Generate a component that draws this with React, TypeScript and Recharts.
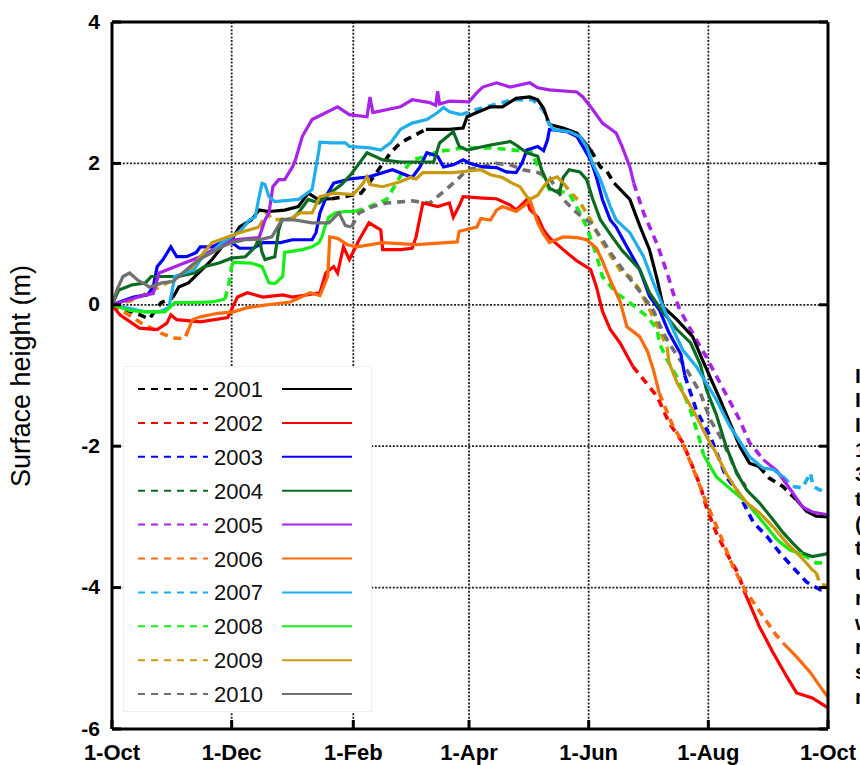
import React from 'react';
import { LineChart, Line, XAxis, YAxis, CartesianGrid } from 'recharts';

const FONT = '"Liberation Sans", Arial, Helvetica, sans-serif';

const xTicks = [0, 61, 123, 182, 243, 304, 365];
const xTickLabels = ['1-Oct', '1-Dec', '1-Feb', '1-Apr', '1-Jun', '1-Aug', '1-Oct'];
const yTicks = [-6, -4, -2, 0, 2, 4];
const years = ['2001', '2002', '2003', '2004', '2005', '2006', '2007', '2008', '2009', '2010'];
const colors = ['#000000', '#FF0000', '#0000FF', '#0B6B22', '#A822E8', '#FF6A0A', '#1EAEEE', '#15EE15', '#C99A10', '#707070'];
const yAxisTitle = 'Surface height (m)';
const sideGlyphs = ['I', 'I', 'I', '1', '3', 't', '(', 't', 'u', 'n', 'w', 'n', 's', 'n'];

// [day since 1-Oct, surface height (m), style of segment starting here: 1 solid, 0 dashed]
const S = 1;
const D = 0;

const h2001 = [[0,0,D],[14,-0.14,D],[19,-0.2,D],[25,0.03,D],[31,0.1,S],[34,0.25,S],[39,0.31,S],[46,0.5,S],[51,0.64,S],[56,0.82,S],[61,0.92,S],[65,1.1,S],[71,1.2,S],[75,1.34,S],[80,1.32,S],[88,1.34,S],[95,1.39,S],[100,1.58,S],[105,1.49,S],[112,1.5,D],[119,1.53,D],[127,1.58,D],[131,1.72,D],[142,2.15,D],[147,2.29,D],[153,2.38,D],[160,2.48,S],[172,2.48,S],[179,2.5,S],[181,2.66,S],[186,2.72,S],[193,2.8,S],[199,2.8,S],[206,2.92,S],[213,2.94,S],[217,2.9,S],[220,2.78,S],[223,2.55,S],[230,2.5,S],[237,2.43,S],[240,2.33,S],[244,2.19,D],[249,1.95,D],[252,1.9,D],[256,1.72,S],[264,1.49,S],[269,1.12,S],[274,0.78,S],[278,0.35,S],[281,-0.03,S],[288,-0.21,S],[296,-0.45,S],[301,-0.78,S],[310,-1.34,S],[315,-1.67,S],[320,-2.0,S],[325,-2.24,S],[330,-2.29,D],[335,-2.45,D],[342,-2.57,D],[349,-2.76,S],[354,-2.92,S],[359,-2.99,S],[365,-3.0,S]];

const h2002 = [[0,0,S],[4,-0.14,S],[14,-0.33,S],[23,-0.35,S],[28,-0.26,S],[30,-0.14,S],[33,-0.21,S],[45,-0.24,S],[59,-0.18,S],[64,0.11,S],[69,0.17,S],[77,0.11,S],[87,0.14,S],[92,0.11,S],[106,0.17,S],[109,0.45,S],[113,0.54,S],[115,0.45,S],[118,0.82,S],[121,0.64,S],[126,0.92,S],[131,1.16,S],[137,1.06,S],[138,0.78,S],[147,0.78,S],[153,0.8,S],[155,0.96,S],[158.5,1.44,S],[166,1.39,S],[172,1.44,S],[174,1.24,S],[177,1.4,S],[179,1.53,S],[189,1.51,S],[196,1.5,S],[203,1.41,S],[206,1.34,S],[211.5,1.49,S],[213,1.35,S],[217,1.24,S],[220,1.06,S],[223,0.95,S],[230,0.78,S],[237,0.62,S],[244,0.5,S],[247,0.25,S],[250,-0.09,S],[254,-0.35,S],[259,-0.54,S],[265.5,-0.87,D],[278,-1.3,D],[284,-1.67,D],[291,-1.95,D],[296,-2.29,D],[300,-2.57,D],[303,-2.86,D],[308,-3.22,D],[313,-3.5,D],[319,-3.79,D],[323,-4.1,S],[330,-4.55,S],[337,-4.92,S],[344,-5.26,S],[349,-5.49,S],[357,-5.56,S],[361,-5.63,S],[365,-5.7,S]];

const h2003 = [[0,0,S],[11,0.11,S],[18,0.14,S],[21,0.25,S],[23,0.54,S],[26,0.64,S],[30,0.82,S],[33,0.68,S],[38,0.68,S],[43,0.74,S],[45,0.82,S],[51,0.82,S],[59,0.92,S],[65,0.8,S],[72,0.8,S],[77,0.88,S],[86,0.88,S],[92,0.92,S],[102,0.92,S],[104,1.02,S],[106,1.3,S],[110,1.58,S],[113,1.72,S],[121,1.78,S],[131,1.81,S],[143,1.91,S],[153,1.8,S],[157,1.95,S],[160.5,2.15,S],[166,2.1,S],[169,1.95,S],[174,1.98,S],[179,2.05,S],[182.5,2.0,S],[189,1.95,S],[196,1.94,S],[201,1.88,S],[206,1.87,S],[209,2.0,S],[211.5,2.19,S],[217,2.24,S],[220,2.18,S],[222,2.33,S],[223,2.48,S],[232,2.45,S],[237,2.38,S],[240,2.24,S],[244,2.05,S],[247,1.8,S],[250,1.49,S],[254,1.2,S],[257,1.1,S],[262.5,0.82,S],[269,0.5,S],[274,0.12,S],[279,-0.07,S],[284,-0.4,S],[290,-0.7,S],[292,-1.0,D],[298,-1.5,D],[305,-1.86,D],[313,-2.43,D],[318.5,-2.62,D],[327,-3.08,D],[334,-3.28,D],[340.5,-3.51,D],[347,-3.71,D],[354,-3.92,D],[361,-4.03,D],[365,-4.02,D]];

const h2004 = [[0,0,S],[3.5,0.21,S],[10,0.28,S],[17,0.31,S],[20,0.4,S],[34,0.4,S],[42,0.45,S],[47,0.54,S],[54.5,0.59,S],[61,0.66,S],[68,0.68,S],[73,0.82,S],[75,0.95,S],[76.5,0.74,S],[78,0.64,S],[83,0.68,S],[85,1.06,S],[86.6,1.2,S],[92,1.22,S],[95,1.3,S],[100,1.49,S],[105.5,1.44,S],[112,1.6,S],[117,1.7,S],[122,1.85,S],[126,2.0,S],[130,2.15,S],[138,2.05,S],[147,2.02,S],[164,2.02,S],[167,2.29,S],[171,2.38,S],[174,2.45,S],[177,2.24,S],[181,2.19,S],[193,2.26,S],[203,2.31,S],[206.5,2.25,S],[211.5,2.15,S],[217,2.1,S],[219,1.91,S],[222,1.72,S],[223,1.65,S],[228,1.58,S],[230,1.8,S],[233,1.91,S],[238.5,1.88,S],[242,1.77,S],[245,1.5,S],[249,1.2,S],[254,1.0,S],[260,0.77,S],[269,0.5,S],[274,0.17,S],[281,-0.11,S],[288,-0.35,S],[295,-0.54,S],[300,-0.85,S],[303,-1.2,S],[308,-1.55,S],[313,-2.0,S],[318.5,-2.38,S],[323.6,-2.62,S],[330,-2.8,S],[337,-3.04,S],[342,-3.22,S],[347,-3.37,S],[352,-3.51,S],[357,-3.56,S],[365,-3.52,S]];

const h2005 = [[0,0,S],[17,0.14,S],[21,0.16,S],[24,0.45,S],[45,0.68,S],[54,0.82,S],[62,0.92,S],[75,0.95,S],[78,1.2,S],[80,1.3,S],[82,1.67,S],[85,1.77,S],[88,1.77,S],[92,1.95,S],[93.5,2.05,S],[95,2.19,S],[97,2.38,S],[98,2.43,S],[102,2.62,S],[115,2.8,S],[121,2.69,S],[130,2.66,S],[131.5,2.94,S],[133,2.72,S],[147,2.8,S],[153,2.9,S],[162,2.86,S],[165,2.82,S],[166,3.02,S],[167,2.84,S],[172,2.88,S],[182,2.87,S],[186,3.0,S],[189,3.08,S],[196,3.14,S],[203,3.08,S],[213,3.14,S],[217,3.07,S],[223,3.04,S],[237,3.01,S],[240,2.94,S],[244,2.8,S],[250,2.57,S],[257,2.43,S],[260,2.24,S],[264,1.95,S],[266,1.72,D],[271,1.3,D],[278,0.85,D],[283,0.45,D],[286,0.17,D],[289.5,-0.07,D],[293,-0.25,D],[298,-0.5,D],[303,-0.74,D],[311,-1.16,D],[320,-1.63,D],[325,-1.95,D],[332,-2.19,S],[339,-2.35,S],[346,-2.62,S],[352,-2.86,S],[357,-2.93,S],[365,-2.97,S]];

const h2006 = [[0,0,D],[9,-0.15,D],[15,-0.26,D],[25,-0.4,D],[31,-0.47,D],[37,-0.48,D],[39,-0.35,S],[41,-0.21,S],[45,-0.17,S],[54,-0.12,S],[62,-0.1,S],[69,-0.04,S],[79,0,S],[91,0.04,S],[101,0.17,S],[106,0.13,S],[110,0.4,S],[111,0.96,S],[115,0.94,S],[120,0.85,S],[125,0.82,S],[138,0.88,S],[155,0.85,S],[176,0.89,S],[177,1.04,S],[186,1.1,S],[188,1.22,S],[193,1.2,S],[196,1.34,S],[199,1.39,S],[206,1.32,S],[211,1.42,S],[213,1.49,S],[217,1.16,S],[220,1.0,S],[223,0.88,S],[230,0.96,S],[237,0.95,S],[242,0.92,S],[247,0.8,S],[250,0.62,S],[254,0.35,S],[259,0.05,S],[262.5,-0.31,S],[269,-0.45,S],[273,-0.66,S],[276,-0.92,S],[279,-1.25,D],[286,-1.72,D],[290,-1.9,D],[296,-2.3,D],[303,-2.8,D],[310,-3.25,D],[316.5,-3.7,D],[323,-4.05,D],[328,-4.25,D],[333,-4.45,D],[338,-4.65,D],[342,-4.78,S],[349,-4.98,S],[356,-5.2,S],[361,-5.4,S],[365,-5.55,S]];

const h2007 = [[0,0,S],[5,-0.03,S],[17,-0.1,S],[24,-0.1,S],[29,-0.04,S],[31,0.25,S],[32,0.4,S],[37,0.45,S],[42,0.5,S],[46,0.68,S],[51,0.74,S],[56,0.88,S],[61,0.96,S],[66,1.06,S],[70,1.2,S],[73,1.24,S],[75,1.53,S],[76.5,1.72,S],[78,1.7,S],[80,1.53,S],[83,1.46,S],[95,1.49,S],[98,1.55,S],[102,1.63,S],[103.5,1.87,S],[105.5,2.19,S],[106,2.3,S],[112,2.29,S],[119,2.29,S],[121,2.24,S],[131.5,2.22,S],[137,2.19,S],[142,2.29,S],[147,2.48,S],[153,2.57,S],[160.5,2.62,S],[166,2.72,S],[169,2.79,S],[172,2.73,S],[178,2.69,D],[188,2.78,D],[199,2.86,D],[204,2.9,D],[214.5,2.9,D],[220,2.75,D],[222,2.6,S],[225,2.48,S],[233,2.45,S],[238.5,2.38,S],[242,2.24,S],[245,2.0,S],[249,1.77,S],[254,1.39,S],[257,1.2,S],[264,1.02,S],[271,0.68,S],[276,0.31,S],[281,-0.03,S],[286,-0.35,S],[291,-0.64,S],[298,-0.88,S],[308,-1.34,S],[315,-1.72,S],[320,-1.93,S],[325,-2.15,S],[332,-2.31,S],[337,-2.33,S],[342,-2.43,D],[347,-2.57,D],[352,-2.59,D],[356,-2.38,D],[357.5,-2.57,D],[361,-2.62,D],[365,-2.66,D]];

const h2008 = [[0,0,S],[9,-0.08,S],[17,-0.1,S],[27,-0.1,S],[32,0.03,S],[42,0.03,S],[51,0.04,S],[57.6,0.08,D],[59.6,0.3,D],[61,0.55,S],[62,0.6,S],[71,0.59,S],[76.5,0.54,S],[80,0.31,S],[83,0.3,S],[87,0.4,S],[88,0.74,S],[97,0.78,S],[102,0.82,S],[105.5,0.88,S],[107,0.96,S],[108.5,1.1,S],[110.6,1.24,S],[114,1.3,S],[119,1.32,S],[124,1.32,D],[131.5,1.39,D],[140,1.49,D],[145,1.72,D],[148,1.87,D],[153,2.05,D],[160.5,2.1,D],[166,2.17,D],[172,2.19,D],[179,2.22,D],[193,2.22,D],[208,2.18,D],[213,2.19,D],[220,1.81,D],[223,1.63,D],[233,1.58,D],[238.5,1.3,D],[242,1.1,D],[247,0.7,D],[250,0.4,D],[257,0.17,D],[264,0.03,D],[273,-0.17,D],[278,-0.35,D],[279,-0.54,D],[283,-0.78,D],[288,-1.02,D],[295,-1.5,D],[300,-1.95,D],[301.5,-2.12,S],[308,-2.43,S],[315,-2.6,S],[323.6,-2.8,S],[332,-3.08,S],[339,-3.32,S],[345.6,-3.47,S],[352,-3.53,D],[359,-3.65,D],[365,-3.65,D]];

const h2009 = [[0,0,D],[9,0.05,D],[19,0.18,D],[31,0.35,D],[40,0.5,S],[45,0.68,S],[51,0.88,S],[59,0.96,S],[65,1.02,S],[75,1.1,D],[79,1.3,D],[82,1.2,D],[91,1.22,S],[96,1.3,S],[102,1.3,S],[106,1.53,S],[113,1.58,S],[123,1.56,S],[128,1.72,S],[130,1.81,S],[131.5,1.7,S],[138,1.67,S],[147,1.74,S],[152,1.8,S],[155,1.78,S],[158.5,1.87,S],[174,1.87,S],[188,1.91,S],[193,1.84,S],[199,1.8,S],[204,1.72,S],[208,1.67,S],[211.5,1.53,S],[213,1.49,S],[217,1.55,S],[220,1.67,S],[223,1.77,S],[227,1.81,S],[230,1.72,D],[233,1.62,D],[238.5,1.45,D],[244,1.2,D],[250,0.88,D],[255,0.66,D],[260,0.45,D],[264,0.4,D],[269,0.21,D],[274,-0.07,D],[279,-0.35,D],[283,-0.6,S],[284,-0.82,S],[288,-1.1,S],[293,-1.34,S],[298,-1.58,S],[303,-1.86,S],[308,-2.1,S],[313,-2.38,S],[318.5,-2.62,S],[323.6,-2.8,S],[330,-2.94,S],[337,-3.14,S],[344,-3.37,S],[351,-3.56,S],[357,-3.75,S],[359,-3.79,D],[361,-3.95,D],[365,-3.98,D]];

const h2010 = [[0,0,S],[2.5,0.21,S],[5.6,0.4,S],[9,0.45,S],[13,0.35,S],[17,0.29,S],[19,0.25,S],[25.5,0.31,S],[31,0.33,S],[36,0.45,S],[42,0.59,S],[47,0.68,S],[51,0.74,S],[56,0.82,S],[61,0.88,S],[68,0.92,S],[76.5,0.93,S],[81.5,0.96,S],[86.6,1.2,S],[93,1.2,S],[102,1.16,S],[110.6,1.16,S],[115.7,1.3,S],[119,1.12,S],[122,1.1,D],[126,1.3,D],[133,1.39,D],[140,1.44,D],[153,1.47,D],[162,1.44,D],[169,1.6,D],[176,1.77,D],[181,1.91,D],[188,1.95,D],[196,2.0,D],[203,1.98,D],[209.5,1.91,D],[217,1.87,D],[223,1.8,D],[230,1.49,D],[237,1.3,D],[244,1.16,D],[250,0.92,D],[255,0.7,D],[262.5,0.42,D],[269,0.19,D],[276,-0.08,D],[281,-0.4,D],[286,-0.63,D],[293,-0.92,D],[300,-1.25,D],[305,-1.63,D],[310,-1.86,D],[315,-2.15,D],[318.5,-2.38,D],[323,-2.57,D]];

const allSeries = [h2001, h2002, h2003, h2004, h2005, h2006, h2007, h2008, h2009, h2010];

function splitSeries(pts: number[][]) {
  const solid: { d: number; v: number | null }[] = [];
  const dashed: { d: number; v: number | null }[] = [];
  pts.forEach((p, i) => {
    const prev = i > 0 ? pts[i - 1][2] : -1;
    solid.push({ d: p[0], v: p[2] === S || prev === S ? p[1] : null });
    dashed.push({ d: p[0], v: p[2] === D || prev === D ? p[1] : null });
  });
  return { solid, dashed };
}

const split = allSeries.map(splitSeries);

const BottomTick = (props: any) => {
  const { x, y, payload } = props;
  const idx = xTicks.indexOf(payload.value);
  return (
    <g>
      <line x1={x} x2={x} y1={y - 8} y2={y - 17} stroke="#000" strokeWidth={3} />
      <text x={x} y={y + 23} textAnchor="middle" fontSize={22} fontWeight="bold" fontFamily={FONT} fill="#000">
        {idx >= 0 ? xTickLabels[idx] : ''}
      </text>
    </g>
  );
};

const TopTick = (props: any) => {
  const { x, y } = props;
  return <line x1={x} x2={x} y1={y} y2={y + 9} stroke="#000" strokeWidth={3} />;
};

const LeftTick = (props: any) => {
  const { x, y, payload } = props;
  return (
    <g>
      <line x1={x + 12} x2={x + 21} y1={y} y2={y} stroke="#000" strokeWidth={3} />
      <text x={x} y={y + 6.5} textAnchor="end" fontSize={21} fontWeight="bold" fontFamily={FONT} fill="#000">
        {String(payload.value)}
      </text>
    </g>
  );
};

const RightTick = (props: any) => {
  const { x, y } = props;
  return <line x1={x} x2={x - 9} y1={y} y2={y} stroke="#000" strokeWidth={3} />;
};

const LegendBox = () => {
  const rowH = 33.9;
  return (
    <div
      style={{
        position: 'absolute',
        left: 123,
        top: 366,
        width: 249,
        height: 346,
        background: '#fff',
        border: '1px solid #eeeeee',
        boxSizing: 'border-box',
      }}
    >
      <svg width={249} height={346} style={{ display: 'block' }}>
        {years.map((yr, i) => {
          const cy = 22 + rowH * i;
          return (
            <g key={yr}>
              <line x1={14} x2={84} y1={cy} y2={cy} stroke={colors[i]} strokeWidth={2} strokeDasharray="7 6" />
              <text x={90} y={cy + 8} fontSize={22} fontFamily={FONT} fill="#111">
                {yr}
              </text>
              <line x1={158} x2={228} y1={cy} y2={cy} stroke={colors[i]} strokeWidth={2} />
            </g>
          );
        })}
      </svg>
    </div>
  );
};

export default function App() {
  return (
    <div style={{ position: 'relative', width: 860, height: 765, overflow: 'hidden', background: '#fff' }}>
      <style>{'html, body { margin: 0; padding: 0; background: #fff; }'}</style>
      <LineChart width={860} height={765} margin={{ top: 20, right: 30, bottom: 6, left: 52 }}>
        <CartesianGrid stroke="#222" strokeDasharray="2 1.6" strokeWidth={1.8} />
        <XAxis
          dataKey="d"
          type="number"
          domain={[0, 365]}
          ticks={xTicks}
          interval={0}
          height={30}
          tickSize={0}
          tickMargin={8}
          tickLine={false}
          axisLine={{ stroke: '#000', strokeWidth: 3 }}
          tick={(p: any) => <BottomTick {...p} />}
          allowDataOverflow
        />
        <XAxis
          xAxisId="top"
          orientation="top"
          type="number"
          domain={[0, 365]}
          ticks={xTicks}
          interval={0}
          height={2}
          tickSize={0}
          tickMargin={0}
          tickLine={false}
          axisLine={{ stroke: '#000', strokeWidth: 3 }}
          tick={(p: any) => <TopTick {...p} />}
          allowDataOverflow
        />
        <YAxis
          type="number"
          domain={[-6, 4]}
          ticks={yTicks}
          interval={0}
          width={60}
          tickSize={0}
          tickMargin={12}
          tickLine={false}
          axisLine={{ stroke: '#000', strokeWidth: 3 }}
          tick={(p: any) => <LeftTick {...p} />}
          allowDataOverflow
        />
        <YAxis
          yAxisId="right"
          orientation="right"
          type="number"
          domain={[-6, 4]}
          ticks={yTicks}
          interval={0}
          width={2}
          tickSize={0}
          tickMargin={0}
          tickLine={false}
          axisLine={{ stroke: '#000', strokeWidth: 3 }}
          tick={(p: any) => <RightTick {...p} />}
          allowDataOverflow
        />
        {split.map((sp, i) => (
          <Line
            key={'d' + years[i]}
            data={sp.dashed}
            dataKey="v"
            type="linear"
            stroke={colors[i]}
            strokeWidth={3.6}
            strokeDasharray="8 6"
            dot={false}
            activeDot={false}
            connectNulls={false}
            isAnimationActive={false}
            legendType="none"
          />
        ))}
        {split.map((sp, i) => (
          <Line
            key={'s' + years[i]}
            data={sp.solid}
            dataKey="v"
            type="linear"
            stroke={colors[i]}
            strokeWidth={3.2}
            dot={false}
            activeDot={false}
            connectNulls={false}
            isAnimationActive={false}
            legendType="none"
          />
        ))}
      </LineChart>
      <LegendBox />
      <svg width={860} height={765} style={{ position: 'absolute', left: 0, top: 0, pointerEvents: 'none' }}>
        <text
          x={30}
          y={376}
          transform="rotate(-90 30 376)"
          textAnchor="middle"
          fontSize={27}
          fontFamily={FONT}
          fill="#000"
        >
          {yAxisTitle}
        </text>
        {sideGlyphs.map((g, i) => (
          <text key={i} x={855} y={382.5 + 24.7 * i} fontSize={21} fontWeight="bold" fontFamily={FONT} fill="#000">
            {g}
          </text>
        ))}
      </svg>
    </div>
  );
}
